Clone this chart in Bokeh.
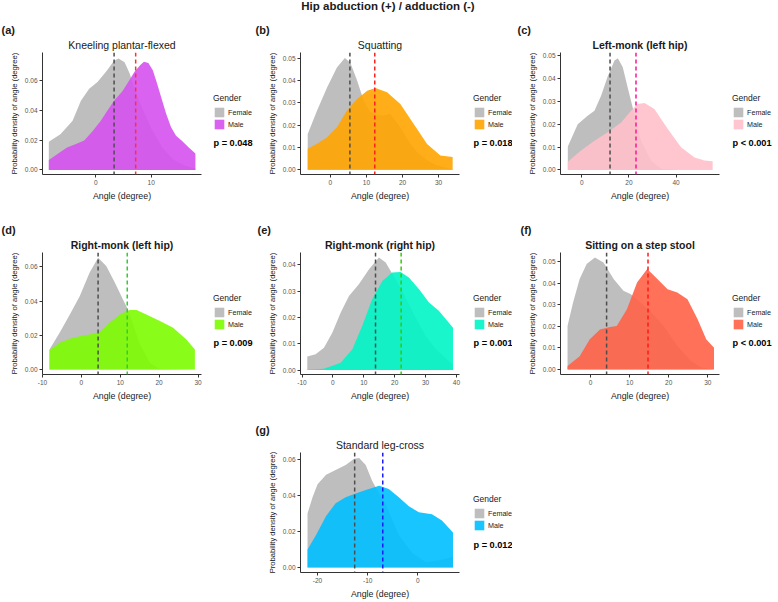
from bokeh.plotting import figure
from bokeh.models import (Range1d, FixedTicker, Span, Label, Legend, LegendItem,
                          Spacer, PrintfTickFormatter, Title, Div)
from bokeh.layouts import column, row
from bokeh.embed import file_html
from bokeh.resources import INLINE

FONT = "Liberation Sans"
MAIN_TITLE = "Hip abduction (+) / adduction (-)"
GROUPS = ["Female", "Male"]
LEGEND_TITLE = "Gender"
X_LABEL = "Angle (degree)"
Y_LABEL = "Probability density of angle (degree)"

# ---------------- (a) Kneeling plantar-flexed ----------------
a_title = "Kneeling plantar-flexed"
a_female_x = [-8.5, -6.4, -4.2, -2.7, -1.2, 0.3, 1.8, 3.3, 4.1, 5.2, 6.1, 6.7, 8.0, 10.0, 12.0, 14.0, 16.0, 18.0]
a_female_y = [0.019, 0.024, 0.033, 0.0466, 0.0546, 0.0591, 0.0658, 0.0734, 0.075, 0.0725, 0.065, 0.058, 0.045, 0.028, 0.015, 0.007, 0.003, 0.001]
a_male_x = [-8.5, -6.8, -5.2, -3.6, -2.1, -0.6, 0.9, 2.1, 3.3, 4.8, 6.0, 7.0, 8.0, 8.7, 9.5, 10.3, 11.0, 11.8, 12.7, 13.6, 14.5, 15.5, 16.8, 18.0]
a_male_y = [0.0067, 0.011, 0.015, 0.0175, 0.0197, 0.026, 0.033, 0.040, 0.0465, 0.053, 0.060, 0.066, 0.0705, 0.0727, 0.072, 0.067, 0.059, 0.049, 0.038, 0.0287, 0.023, 0.0197, 0.015, 0.011]
a_means = [3.3, 7.2]
a_p = "p = 0.048"
a_xticks = [0, 10]
a_xlabels = ["0", "10"]
a_yticks = [0.0, 0.02, 0.04, 0.06]
a_ylabels = ["0.00", "0.02", "0.04", "0.06"]

# ---------------- (b) Squatting ----------------
b_title = "Squatting"
b_female_x = [-6.3, -3.7, -0.9, 1.8, 4.0, 5.5, 7.4, 9.2, 11.0, 13.0, 14.8, 16.6, 19.4, 22.0, 24.0, 27.0, 29.5, 33.9]
b_female_y = [0.016, 0.0265, 0.037, 0.0458, 0.050, 0.048, 0.040, 0.031, 0.026, 0.0245, 0.0243, 0.025, 0.019, 0.012, 0.008, 0.004, 0.002, 0.0003]
b_male_x = [-6.3, -3.6, -0.9, 1.8, 4.6, 7.4, 10.2, 12.5, 15.7, 19.4, 23.1, 26.8, 30.5, 33.9]
b_male_y = [0.0094, 0.0118, 0.0146, 0.019, 0.0265, 0.0317, 0.0354, 0.0366, 0.0347, 0.0295, 0.0205, 0.0116, 0.0064, 0.0057]
b_means = [5.4, 12.3]
b_p = "p = 0.018"
b_xticks = [0, 10, 20, 30]
b_xlabels = ["0", "10", "20", "30"]
b_yticks = [0.0, 0.01, 0.02, 0.03, 0.04, 0.05]
b_ylabels = ["0.00", "0.01", "0.02", "0.03", "0.04", "0.05"]

# ---------------- (c) Left-monk (left hip) ----------------
c_title = "Left-monk (left hip)"
c_female_x = [-5.9, -1.7, 2.5, 5.4, 8.2, 11.0, 13.9, 15.3, 17.4, 19.5, 21.6, 25.2, 29.4, 33.6, 40.0, 55.5]
c_female_y = [0.0103, 0.020, 0.0238, 0.026, 0.0325, 0.041, 0.048, 0.049, 0.045, 0.036, 0.0274, 0.0128, 0.004, 0.0005, 0.0, 0.0]
c_male_x = [-5.9, -0.3, 5.4, 11.0, 16.7, 20.9, 23.7, 26.6, 30.8, 36.5, 42.1, 47.8, 52.0, 55.5]
c_male_y = [0.0036, 0.0085, 0.0128, 0.0165, 0.0208, 0.026, 0.0289, 0.0294, 0.0267, 0.018, 0.0099, 0.0055, 0.0041, 0.0038]
c_means = [12.0, 23.0]
c_p = "p < 0.001"
c_xticks = [0, 20, 40]
c_xlabels = ["0", "20", "40"]
c_yticks = [0.0, 0.01, 0.02, 0.03, 0.04, 0.05]
c_ylabels = ["0.00", "0.01", "0.02", "0.03", "0.04", "0.05"]

# ---------------- (d) Right-monk (left hip) ----------------
d_title = "Right-monk (left hip)"
d_female_x = [-8.2, -5.6, -3.0, -0.4, 2.1, 4.3, 6.4, 8.6, 10.7, 12.0, 15.0, 17.6, 20.0, 29.2]
d_female_y = [0.0117, 0.0215, 0.032, 0.043, 0.0566, 0.0654, 0.0605, 0.0508, 0.041, 0.035, 0.015, 0.004, 0.0005, 0.0]
d_male_x = [-8.2, -5.6, -3.0, -0.4, 2.1, 4.7, 7.3, 9.9, 12.4, 14.2, 16.7, 20.2, 23.6, 27.0, 29.2]
d_male_y = [0.0113, 0.0156, 0.018, 0.0195, 0.0205, 0.0219, 0.0273, 0.0322, 0.0348, 0.0348, 0.0322, 0.0283, 0.0244, 0.0176, 0.0117]
d_means = [4.3, 11.8]
d_p = "p = 0.009"
d_xticks = [-10, 0, 10, 20, 30]
d_xlabels = ["-10", "0", "10", "20", "30"]
d_yticks = [0.0, 0.02, 0.04, 0.06]
d_ylabels = ["0.00", "0.02", "0.04", "0.06"]

# ---------------- (e) Right-monk (right hip) ----------------
e_title = "Right-monk (right hip)"
e_female_x = [-8.3, -5.6, -2.9, -0.2, 2.5, 5.2, 8.4, 11.7, 14.9, 17.1, 18.7, 22.5, 26.8, 30.0, 33.3, 38.9]
e_female_y = [0.0051, 0.006, 0.0085, 0.0142, 0.0218, 0.0282, 0.0326, 0.0383, 0.0428, 0.0409, 0.0377, 0.030, 0.020, 0.013, 0.008, 0.002]
e_male_x = [-8.3, -2.9, 2.5, 6.3, 9.5, 12.7, 16.0, 19.2, 21.9, 24.6, 27.9, 31.1, 34.3, 38.9]
e_male_y = [0.0001, 0.0005, 0.0028, 0.0079, 0.0168, 0.0269, 0.0339, 0.0371, 0.0373, 0.0352, 0.0307, 0.0257, 0.0225, 0.0161]
e_means = [13.8, 22.1]
e_p = "p = 0.001"
e_xticks = [-10, 0, 10, 20, 30, 40]
e_xlabels = ["-10", "0", "10", "20", "30", "40"]
e_yticks = [0.0, 0.01, 0.02, 0.03, 0.04]
e_ylabels = ["0.00", "0.01", "0.02", "0.03", "0.04"]

# ---------------- (f) Sitting on a step stool ----------------
f_title = "Sitting on a step stool"
f_female_x = [-5.9, -4.5, -2.8, -1.0, 1.1, 3.3, 5.9, 8.4, 10.2, 11.9, 15.3, 18.8, 22.2, 25.7, 28.3, 31.6]
f_female_y = [0.0202, 0.031, 0.042, 0.049, 0.052, 0.0497, 0.042, 0.0365, 0.035, 0.0326, 0.027, 0.020, 0.011, 0.004, 0.001, 0.0]
f_male_x = [-5.9, -2.8, -0.2, 2.4, 5.0, 6.7, 9.3, 11.9, 14.5, 17.1, 19.7, 22.2, 24.8, 27.4, 29.6, 31.6]
f_male_y = [0.0016, 0.0062, 0.014, 0.0186, 0.0197, 0.0202, 0.028, 0.0404, 0.0466, 0.042, 0.0373, 0.0357, 0.0326, 0.0233, 0.014, 0.0101]
f_means = [4.1, 14.7]
f_p = "p < 0.001"
f_xticks = [0, 10, 20, 30]
f_xlabels = ["0", "10", "20", "30"]
f_yticks = [0.0, 0.01, 0.02, 0.03, 0.04, 0.05]
f_ylabels = ["0.00", "0.01", "0.02", "0.03", "0.04", "0.05"]

# ---------------- (g) Standard leg-cross ----------------
g_title = "Standard leg-cross"
g_female_x = [-22.0, -21.0, -20.0, -18.3, -16.4, -14.4, -12.7, -11.7, -10.4, -9.1, -8.4, -6.4, -3.8, -1.1, 1.5, 4.2, 7.0]
g_female_y = [0.030, 0.039, 0.0462, 0.0515, 0.0541, 0.0568, 0.0603, 0.0607, 0.0568, 0.048, 0.0444, 0.035, 0.018, 0.008, 0.003, 0.004, 0.006]
g_male_x = [-22.0, -20.3, -18.3, -16.4, -14.4, -12.4, -10.4, -7.7, -5.8, -3.8, -1.8, 0.2, 2.8, 4.8, 7.0]
g_male_y = [0.010, 0.018, 0.0286, 0.0356, 0.039, 0.041, 0.043, 0.0453, 0.0436, 0.039, 0.0339, 0.0307, 0.0295, 0.026, 0.0194]
g_means = [-12.6, -7.0]
g_p = "p = 0.012"
g_xticks = [-20, -10, 0]
g_xlabels = ["-20", "-10", "0"]
g_yticks = [0.0, 0.02, 0.04, 0.06]
g_ylabels = ["0.00", "0.02", "0.04", "0.06"]

# ---------------- styling / geometry ----------------
FEMALE_FILL = "#BEBEBE"
FEMALE_LINE = "#4D4D4D"
FRAME_W = 159
FRAME_H = 122
PLOT_RIGHT = 5

panels = {
    "a": dict(title=a_title, fx=a_female_x, fy=a_female_y, mx=a_male_x, my=a_male_y, means=a_means, p=a_p,
              xt=a_xticks, xl=a_xlabels, yt=a_yticks, yl=a_ylabels, bold=False,
              xr=(-9.64, 19.1), yr=(-0.0031, 0.079), fill="#D651F0", line="#FF3030",
              left=42, side=48, top=38, bottom=48, lab_x=-41, leg_x=7),
    "b": dict(title=b_title, fx=b_female_x, fy=b_female_y, mx=b_male_x, my=b_male_y, means=b_means, p=b_p,
              xt=b_xticks, xl=b_xlabels, yt=b_yticks, yl=b_ylabels, bold=False,
              xr=(-8.3, 35.8), yr=(-0.0021, 0.0525), fill="#FFA500", line="#FF2020",
              left=46, side=48, top=38, bottom=48, lab_x=-45, leg_x=9),
    "c": dict(title=c_title, fx=c_female_x, fy=c_female_y, mx=c_male_x, my=c_male_y, means=c_means, p=c_p,
              xt=c_xticks, xl=c_xlabels, yt=c_yticks, yl=c_ylabels, bold=True,
              xr=(-9.0, 58.4), yr=(-0.002, 0.0515), fill="#FFC0CB", line="#FF1493",
              left=48, side=52, top=38, bottom=48, lab_x=-43, leg_x=8),
    "d": dict(title=d_title, fx=d_female_x, fy=d_female_y, mx=d_male_x, my=d_male_y, means=d_means, p=d_p,
              xt=d_xticks, xl=d_xlabels, yt=d_yticks, yl=d_ylabels, bold=True,
              xr=(-10.0, 30.9), yr=(-0.0029, 0.0684), fill="#7CFC00", line="#33CC33",
              left=42, side=48, top=30, bottom=48, lab_x=-41, leg_x=7),
    "e": dict(title=e_title, fx=e_female_x, fy=e_female_y, mx=e_male_x, my=e_male_y, means=e_means, p=e_p,
              xt=e_xticks, xl=e_xlabels, yt=e_yticks, yl=e_ylabels, bold=True,
              xr=(-10.5, 41.0), yr=(-0.0017, 0.0447), fill="#00F5C5", line="#33CC00",
              left=46, side=48, top=30, bottom=48, lab_x=-43, leg_x=9),
    "f": dict(title=f_title, fx=f_female_x, fy=f_female_y, mx=f_male_x, my=f_male_y, means=f_means, p=f_p,
              xt=f_xticks, xl=f_xlabels, yt=f_yticks, yl=f_ylabels, bold=True,
              xr=(-7.7, 33.0), yr=(-0.0023, 0.0543), fill="#FF6347", line="#FF1A1A",
              left=48, side=52, top=30, bottom=48, lab_x=-40, leg_x=8),
    "g": dict(title=g_title, fx=g_female_x, fy=g_female_y, mx=g_male_x, my=g_male_y, means=g_means, p=g_p,
              xt=g_xticks, xl=g_xlabels, yt=g_yticks, yl=g_ylabels, bold=False,
              xr=(-23.4, 8.3), yr=(-0.0028, 0.0638), fill="#00BFFF", line="#1A1AFF",
              left=46, side=48, top=30, bottom=27, lab_x=-45, leg_x=9),
}


def style_axis(ax, ticks, labels, size_label):
    ax.ticker = FixedTicker(ticks=ticks, minor_ticks=[])
    ax.major_label_overrides = {t: l for t, l in zip(ticks, labels)}
    ax.axis_line_color = "#333333"
    ax.axis_line_width = 1
    ax.major_tick_line_color = "#333333"
    ax.major_tick_out = 3
    ax.major_tick_in = 0
    ax.minor_tick_out = 0
    ax.minor_tick_in = 0
    ax.major_label_text_font = FONT
    ax.major_label_text_font_size = "6.5px"
    ax.major_label_text_color = "#555555"
    ax.major_label_standoff = 2
    ax.axis_label_standoff = 3
    ax.axis_label_text_font = FONT
    ax.axis_label_text_font_style = "normal"
    ax.axis_label_text_font_size = size_label
    ax.axis_label_text_color = "#1a1a1a"


def make_panel(key):
    c = panels[key]
    w = c["left"] + FRAME_W + PLOT_RIGHT
    h = c["top"] + FRAME_H + c["bottom"]
    p = figure(width=w, height=h, output_backend="svg", toolbar_location=None, title=None,
               x_range=Range1d(*c["xr"]), y_range=Range1d(*c["yr"]),
               min_border_left=c["left"], min_border_right=PLOT_RIGHT,
               min_border_top=c["top"], min_border_bottom=c["bottom"],
               outline_line_color=None, background_fill_color="white",
               border_fill_color="white", x_axis_label=X_LABEL, y_axis_label=Y_LABEL)
    p.xgrid.visible = False
    p.ygrid.visible = False
    style_axis(p.xaxis[0], c["xt"], c["xl"], "8.8px")
    style_axis(p.yaxis[0], c["yt"], c["yl"], "7.6px")
    p.yaxis[0].formatter = PrintfTickFormatter(format="%.2f")

    # panel title (closest to the frame), then the panel letter above it
    p.add_layout(Title(text=c["title"], align="center", standoff=4,
                       text_font=FONT, text_font_size="10.5px",
                       text_font_style="bold" if c["bold"] else "normal",
                       text_color="#1a1a1a"), "above")
    p.add_layout(Title(text="(" + key + ")", align="left", offset=c["lab_x"], standoff=-3,
                       text_font=FONT, text_font_size="11px", text_font_style="bold",
                       text_color="#1a1a1a"), "above")

    p.varea(x=c["fx"], y1=0, y2=c["fy"], fill_color=FEMALE_FILL, fill_alpha=1.0)
    p.varea(x=c["mx"], y1=0, y2=c["my"], fill_color=c["fill"], fill_alpha=0.9)

    p.add_layout(Span(location=c["means"][0], dimension="height", line_color=FEMALE_LINE,
                      line_dash="4 3", line_width=1.5))
    p.add_layout(Span(location=c["means"][1], dimension="height", line_color=c["line"],
                      line_dash="4 3", line_width=1.5))

    # side figure holding the legend and the p-value; its frame aligns with the plot frame
    sw = c["side"]
    s = figure(width=sw, height=h, output_backend="svg", toolbar_location=None, title=None,
               x_range=Range1d(0, 10), y_range=Range1d(0, 10),
               min_border_left=0, min_border_right=0,
               min_border_top=c["top"], min_border_bottom=c["bottom"],
               x_axis_type=None, y_axis_type=None, outline_line_color=None,
               background_fill_color="white", border_fill_color="white")
    sf = s.varea(x=[-5, -4], y1=[-5, -5], y2=[-5, -5], fill_color=FEMALE_FILL, fill_alpha=1.0)
    sm = s.varea(x=[-5, -4], y1=[-5, -5], y2=[-5, -5], fill_color=c["fill"], fill_alpha=0.9)
    leg_y = 41 if key == "g" else 44
    legend = Legend(items=[LegendItem(label=GROUPS[0], renderers=[sf]),
                           LegendItem(label=GROUPS[1], renderers=[sm])],
                    title=LEGEND_TITLE, location=(c["leg_x"], leg_y),
                    glyph_width=12, glyph_height=12, label_height=12, label_width=10,
                    spacing=0, padding=0, margin=0, label_standoff=3, title_standoff=3,
                    label_text_font=FONT, label_text_font_size="7.2px", label_text_color="#1a1a1a",
                    title_text_font=FONT, title_text_font_size="8.5px", title_text_color="#1a1a1a",
                    title_text_font_style="normal",
                    border_line_color=None, background_fill_alpha=0)
    s.add_layout(legend)
    p_y = 28 if key == "g" else 32
    s.add_layout(Label(x=c["leg_x"], y=p_y, x_units="screen", y_units="screen",
                       text=c["p"], text_font=FONT, text_font_style="bold",
                       text_font_size="9.2px", text_baseline="middle", text_color="#000000"))
    return row(p, s)


title_div = Div(text=MAIN_TITLE, width=776, height=14, margin=0,
                styles={"text-align": "center", "font-weight": "bold", "font-size": "11.5px",
                        "font-family": FONT, "line-height": "12px", "color": "#1a1a1a"})

pa, pb, pc = make_panel("a"), make_panel("b"), make_panel("c")
pd_, pe, pf = make_panel("d"), make_panel("e"), make_panel("f")
pg = make_panel("g")

ac, gc = panels["a"], panels["g"]
layout = column(
    title_div,
    row(pa, pb, pc),
    row(pd_, pe, pf),
    row(Spacer(width=ac["left"] + FRAME_W + PLOT_RIGHT + ac["side"],
               height=gc["top"] + FRAME_H + gc["bottom"]), pg),
)

open("out.html", "w").write(file_html(layout, INLINE))
